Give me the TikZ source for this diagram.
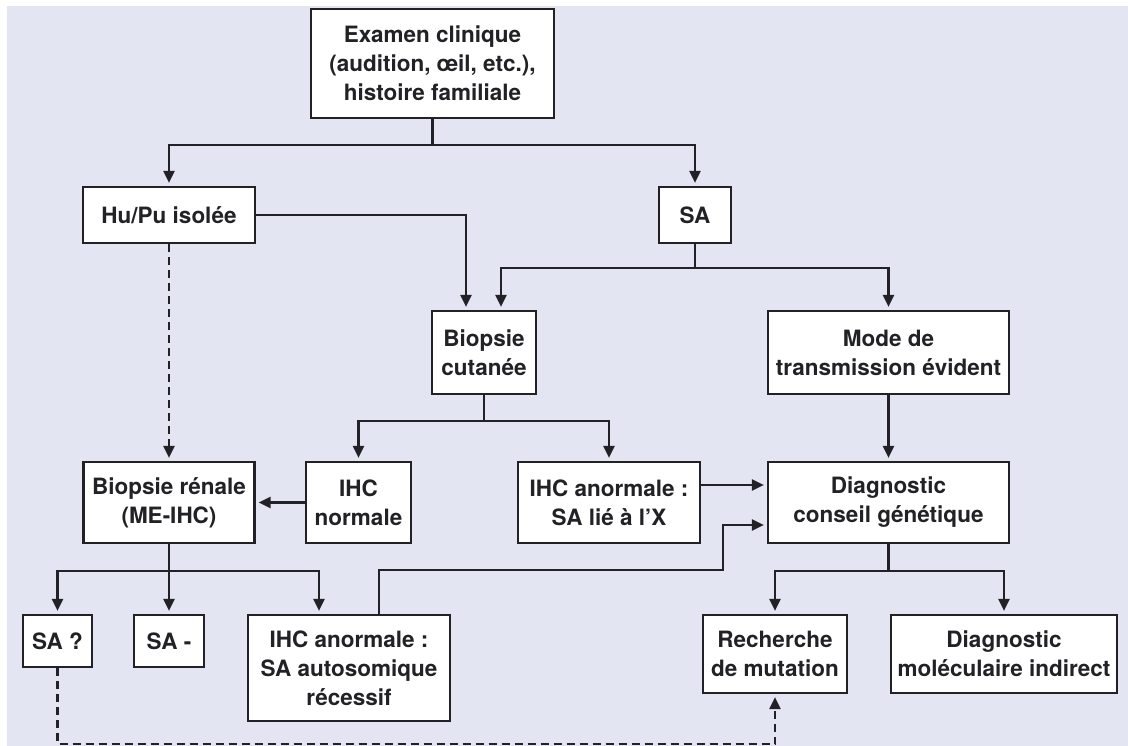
\documentclass[tikz,border=0pt]{standalone}
\usepackage{fontspec}
\setmainfont{TeX Gyre Heros}
\usetikzlibrary{arrows.meta,calc}
\definecolor{bgpanel}{RGB}{228,229,242}
\definecolor{ink}{RGB}{34,34,38}
\begin{document}
\begin{tikzpicture}[x=1pt,y=-1pt,
  box/.style={draw=ink, line width=2.2pt, fill=white, inner sep=0pt,
    align=center, text=ink, font=\fontsize{22.5}{29}\selectfont\bfseries},
  link/.style={draw=ink, line width=2.2pt},
  arr/.style={link, -{Triangle[length=12pt,width=11pt]}, shorten >=3pt},
  darr/.style={arr, dash pattern=on 8pt off 5pt},
]
% page and panel
\useasboundingbox (0,0) rectangle (1128,746);
\fill[white] (0,0) rectangle (1128,746);
\fill[bgpanel] (7,6) rectangle (1128,746);

% boxes
\node[box, minimum width=243pt, minimum height=109pt] (exam) at (432.5,63.5)
  {Examen clinique\\(audition, œil, etc.),\\histoire familiale};
\node[box, minimum width=172pt, minimum height=56pt] (hupu) at (169,215) {Hu/Pu isolée};
\node[box, minimum width=72pt, minimum height=56pt] (sa) at (695,215) {SA};
\node[box, minimum width=104pt, minimum height=83pt] (biocut) at (484,352.5) {Biopsie\\cutanée};
\node[box, minimum width=241pt, minimum height=83pt] (mode) at (888.5,352.5) {Mode de\\transmission évident};
\node[box, minimum width=171pt, minimum height=81pt] (biren) at (169,502.5) {Biopsie rénale\\(ME-IHC)};
\node[box, minimum width=105pt, minimum height=81pt] (ihcn) at (358.5,502.5) {IHC\\normale};
\node[box, minimum width=182pt, minimum height=81pt] (ihcx) at (609,502.5) {IHC anormale :\\SA lié à l'X};
\node[box, minimum width=241pt, minimum height=81pt] (diag) at (888.5,502.5) {Diagnostic\\conseil génétique};
\node[box, minimum width=69pt, minimum height=52pt] (saq) at (57.5,641) {SA ?};
\node[box, minimum width=70pt, minimum height=52pt] (sam) at (169,641) {SA -};
\node[box, minimum width=202pt, minimum height=106pt] (ihcar) at (349,668)
  {IHC anormale :\\SA autosomique\\récessif};
\node[box, minimum width=144pt, minimum height=78pt] (rech) at (775,654) {Recherche\\de mutation};
\node[box, minimum width=226pt, minimum height=78pt] (dmi) at (1004,654) {Diagnostic\\moléculaire indirect};

% connectors
\draw[link] (exam.south) -- ++(0,26) coordinate (j1);
\draw[arr] (j1) -| (hupu.north);
\draw[arr] (j1) -| (sa.north);

\draw[arr] (hupu.east) -| ([xshift=-18pt]biocut.north);

\draw[link] (sa.south) -- ++(0,24) coordinate (j2);
\draw[arr] (j2) -| ([xshift=17pt]biocut.north);
\draw[arr] (j2) -| (mode.north);

\draw[darr] (hupu.south) -- (biren.north);

\draw[link] (biocut.south) -- ++(0,26) coordinate (j3);
\draw[arr] (j3) -| (ihcn.north);
\draw[arr] (j3) -| (ihcx.north);

\draw[arr] (mode.south) -- (diag.north);
\draw[arr] (ihcn.west) -- (biren.east);
\draw[arr] ([yshift=17.5pt]ihcx.east) -- ([yshift=17.5pt]diag.west);

\draw[link] (biren.south) -- ++(0,27) coordinate (j4);
\draw[arr] (j4) -| (saq.north);
\draw[arr] (j4) -- (sam.north);
\draw[arr] (j4) -| ([xshift=-30pt]ihcar.north);

\coordinate (k) at (723,570);
\draw[arr] ([xshift=30pt]ihcar.north) |- (k) |- ([yshift=-22.5pt]diag.west);

\draw[link] (diag.south) -- ++(0,27) coordinate (j5);
\draw[arr] (j5) -| (rech.north);
\draw[arr] (j5) -| (dmi.north);

\draw[darr] (saq.south) -- ++(0,76) -| (rech.south);
\end{tikzpicture}
\end{document}
